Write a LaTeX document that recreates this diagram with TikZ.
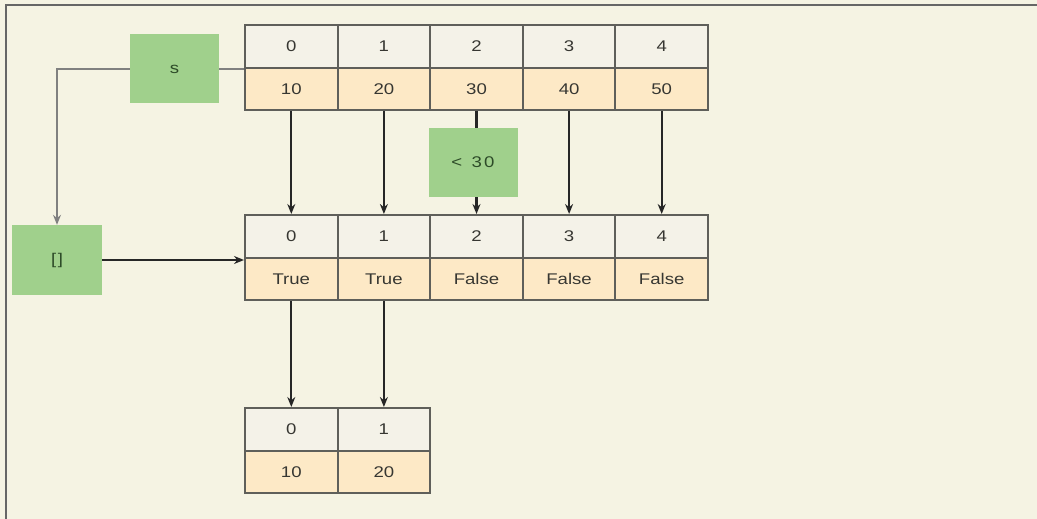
\documentclass[tikz,border=0pt]{standalone}
\usepackage{fontspec}
\setmainfont{Liberation Sans}
\newfontfamily\cellfont[FakeStretch=1.2]{Liberation Sans}
\usetikzlibrary{arrows.meta}
\definecolor{bg}{RGB}{245,243,227}
\definecolor{hdr}{RGB}{244,242,232}
\definecolor{val}{RGB}{253,233,198}
\definecolor{grn}{RGB}{160,208,140}
\definecolor{bord}{RGB}{95,95,90}
\definecolor{txt}{RGB}{55,55,50}
\definecolor{gtxt}{RGB}{45,75,40}
\tikzset{
  cell/.style={draw=bord, line width=2pt, inner sep=0pt, minimum width=92.6pt,
    font=\cellfont\fontsize{15.5}{17}\selectfont, text=txt},
  hcell/.style={cell, fill=hdr, minimum height=43pt},
  vcell/.style={cell, fill=val, minimum height=42pt},
  gbox/.style={fill=grn, inner sep=0pt, minimum width=89pt, minimum height=69pt,
    font=\cellfont\fontsize{15.5}{17}\selectfont, text=gtxt},
  arr/.style={line width=2.2pt, black!85, -{Stealth[length=10pt,width=8pt]}},
  gline/.style={line width=1.3pt, black!50},
  garr/.style={gline, -{Stealth[length=10pt,width=8pt]}}
}
\begin{document}
\begin{tikzpicture}[x=1pt,y=-1pt]
\fill[bg] (0,0) rectangle (1037,519);
\useasboundingbox (0,0) rectangle (1037,519);
\draw[line width=1.5pt, black!60] (6,519) -- (6,5) -- (1037,5);

% top array
\foreach \i/\v in {0/10,1/20,2/30,3/40,4/50}{
  \node[hcell] (th\i) at ({245+92.6*\i+46.3},46.5) {\i};
  \node[vcell] (tv\i) at ({245+92.6*\i+46.3},89) {\v};
}
% middle array
\foreach \i/\v in {0/True,1/True,2/False,3/False,4/False}{
  \node[hcell] (mh\i) at ({245+92.6*\i+46.3},236.5) {\i};
  \node[vcell] (mv\i) at ({245+92.6*\i+46.3},279) {\v};
}
% bottom array
\foreach \i/\v in {0/10,1/20}{
  \node[hcell] (bh\i) at ({245+92.6*\i+46.3},429.5) {\i};
  \node[vcell] (bv\i) at ({245+92.6*\i+46.3},472) {\v};
}

% green boxes
\node[gbox] (s) at (174.5,69) {s};
\node[gbox] (cmp) at (473,162.5) {<\hspace{0.6em}3\hspace{0.15em}0};
\node[gbox, minimum width=90pt, minimum height=70pt] (lst) at (57,260) {[\hspace{0.1em}]};

% connectors
\draw[gline] (s.east) -- (s.east -| th0.west);
\draw[garr] (s.west) -| (lst.north);
\draw[arr] (lst.east) -- (lst.east -| mh0.west);

\foreach \i in {0,1,3,4}{
  \draw[arr] (tv\i.south) -- (mh\i.north);
}
\draw[line width=2.2pt, black!85] (tv2.south) -- (tv2.south |- cmp.north);
\draw[arr] (cmp.south -| mh2.north) -- (mh2.north);

\foreach \i in {0,1}{
  \draw[arr] (mv\i.south) -- (bh\i.north);
}
\end{tikzpicture}
\end{document}
